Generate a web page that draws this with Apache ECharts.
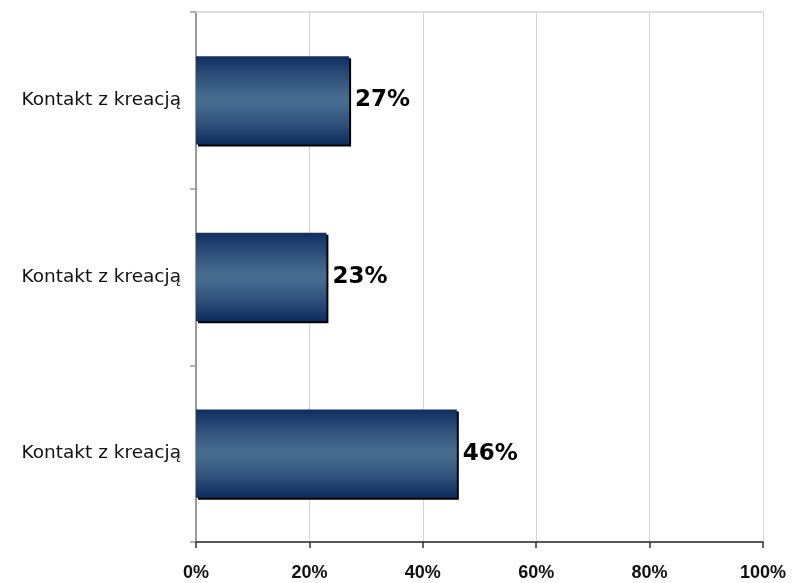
<!DOCTYPE html>
<html>
<head>
<meta charset="utf-8">
<script src="https://cdn.jsdelivr.net/npm/echarts@6/dist/echarts.min.js"></script>
<style>html,body{margin:0;padding:0;background:#fff;}#c{width:792px;height:583px;}</style>
</head>
<body>
<div id="c"></div>
<script>
// Categories listed bottom-to-top (ECharts category y axis starts at the bottom)
var categories = ['Kontakt z kreacją', 'Kontakt z kreacją', 'Kontakt z kreacją'];
var values = [46, 23, 27];
var xTicks = [0, 20, 40, 60, 80, 100];

var chart = echarts.init(document.getElementById('c'), null, {renderer: 'canvas'});
chart.setOption({
  animation: false,
  backgroundColor: '#ffffff',
  grid: {left: 196, right: 29, top: 12, bottom: 41, containLabel: false},
  xAxis: [{
    type: 'value', min: 0, max: 100, interval: 20,
    axisLine: {show: true, lineStyle: {color: '#222', width: 1.5}},
    axisTick: {show: true, length: 6, lineStyle: {color: '#333', width: 1.5}},
    splitLine: {show: true, lineStyle: {color: '#d4d4d4', width: 1}},
    axisLabel: {
      margin: 22,
      formatter: function (v) { return xTicks.indexOf(v) >= 0 ? v + '%' : ''; },
      color: '#111', fontFamily: 'Liberation Sans', fontWeight: 'bold', fontSize: 18
    }
  }, {
    type: 'value', position: 'top', min: 0, max: 100,
    axisLine: {show: true, lineStyle: {color: '#d4d4d4', width: 1.5}},
    axisTick: {show: false}, axisLabel: {show: false}, splitLine: {show: false}
  }],
  yAxis: {
    type: 'category', data: categories,
    axisLine: {show: true, lineStyle: {color: '#9a9a9a', width: 2}},
    axisTick: {show: true, length: 6, lineStyle: {color: '#9a9a9a', width: 1.5}},
    axisLabel: {margin: 15, color: '#111', fontFamily: 'DejaVu Sans', fontSize: 18.5},
    splitLine: {show: false}
  },
  series: [{
    type: 'bar', data: values, xAxisIndex: 0, barWidth: '50%',
    itemStyle: {
      color: new echarts.graphic.LinearGradient(0, 0, 0, 1, [
        {offset: 0, color: '#0f2e5f'},
        {offset: 0.2, color: '#2a4b77'},
        {offset: 0.45, color: '#466b8d'},
        {offset: 0.55, color: '#466b8d'},
        {offset: 0.8, color: '#2a4b77'},
        {offset: 1, color: '#0c2c5e'}
      ]),
      shadowColor: '#000', shadowOffsetX: 2, shadowOffsetY: 2, shadowBlur: 0
    },
    label: {
      show: true, position: 'right', distance: 6,
      formatter: '{c}%', color: '#000', fontFamily: 'DejaVu Sans', fontWeight: 'bold', fontSize: 23
    }
  }]
});
</script>
</body>
</html>
